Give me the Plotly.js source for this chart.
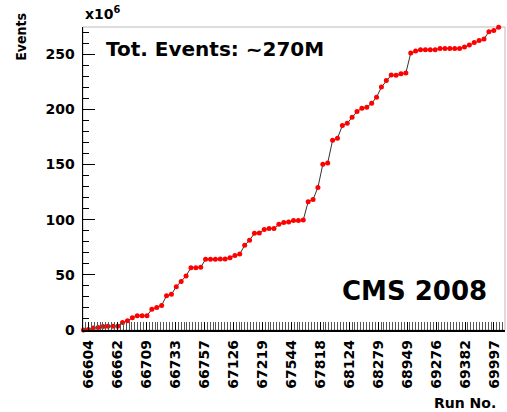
<!DOCTYPE html>
<html>
<head>
<meta charset="utf-8">
<script src="https://cdn.plot.ly/plotly-3.0.1.min.js"></script>
<style>
  html, body { margin: 0; padding: 0; background: #fff; }
  #chart { width: 507px; height: 412px; }
</style>
</head>
<body>
<div id="chart"></div>
<script>
// Cumulative recorded events (units of 10^6), one value per run, in run order
const events = [
  0, 0.5, 1.7, 2.3, 3.2, 3.5, 3.5, 3.5, 6.8, 8.3,
  11, 12.9, 12.9, 12.9, 18.9, 20.5, 22.3, 31, 32.3, 39.3,
  44, 49, 56.5, 56.5, 56.8, 64.1, 64.1, 64.1, 64.4, 64.4,
  65.6, 67.5, 68.9, 76.8, 81.4, 87.7, 88, 91.1, 92, 92,
  95.9, 97.4, 98, 99.2, 99.2, 99.8, 116.2, 118.3, 129.3, 150.2,
  151.4, 172, 173.8, 185.3, 187.4, 192.9, 198, 201.1, 202, 205.5,
  211.1, 220.2, 226.2, 231.1, 231, 232.3, 232.9, 251.1, 252.9, 254.1,
  254.1, 254.1, 254.1, 255.3, 255.3, 255.3, 255.3, 255.3, 256.5, 258.3,
  260.7, 262.5, 263.8, 270.5, 271.6, 274.4
];
// Run numbers shown as axis labels
const runLabels = [
  "66604", "66662", "66709", "66733", "66757", "67126", "67219", "67544",
  "67818", "68124", "68279", "68949", "69276", "69382", "69997"
];

const runIndex = events.map((_, i) => i);

// axis layout constants (in run-index units)
const labelStart = 1.02, labelStep = 5.93, minorStep = 0.593;
const labelPos = runLabels.map((_, k) => labelStart + k * labelStep);

const bold = { family: "DejaVu Sans, sans-serif", weight: "bold", color: "#000" };

const trace = {
  x: runIndex,
  y: events,
  type: "scatter",
  mode: "lines+markers",
  line: { color: "#333", width: 1 },
  marker: { color: "#ff0000", size: 5, symbol: "circle" },
  cliponaxis: false,
  hoverinfo: "skip"
};

const layout = {
  width: 507, height: 412,
  margin: { l: 83, r: 2, t: 27, b: 82, pad: 0 },
  paper_bgcolor: "#fff", plot_bgcolor: "#fff",
  showlegend: false,
  xaxis: {
    range: [-0.1, 86.3],
    showgrid: false, zeroline: false,
    showline: true, linecolor: "#000", linewidth: 1.5,
    tickmode: "array", tickvals: labelPos, ticktext: runLabels,
    ticks: "inside", ticklen: 8, tickcolor: "#000", tickwidth: 1,
    tickangle: -90,
    tickfont: Object.assign({ size: 14 }, bold),
    ticklabelstandoff: 3,
    minor: { tickmode: "linear", tick0: labelStart, dtick: minorStep, ticks: "inside", ticklen: 8, tickcolor: "#555", tickwidth: 1, showgrid: false }
  },
  yaxis: {
    range: [0, 274.7],
    showgrid: false, zeroline: false,
    showline: true, linecolor: "#000", linewidth: 1.5,
    tickmode: "linear", tick0: 0, dtick: 50,
    ticks: "inside", ticklen: 12, tickcolor: "#000", tickwidth: 1,
    tickfont: Object.assign({ size: 14 }, bold),
    ticklabelstandoff: 4,
    minor: { tickmode: "linear", tick0: 0, dtick: 10, ticks: "inside", ticklen: 6, tickcolor: "#000", tickwidth: 1, showgrid: false }
  },
  shapes: [
    { type: "rect", xref: "paper", yref: "paper", x0: 0, x1: 1, y0: 0, y1: 1,
      line: { color: "#bbb", width: 1 }, fillcolor: "rgba(0,0,0,0)", layer: "below" }
  ],
  annotations: [
    { text: "Tot. Events: ~270M", xref: "paper", yref: "paper", x: 0.049, y: 0.928,
      xanchor: "left", yanchor: "middle", showarrow: false,
      font: Object.assign({ size: 20 }, bold) },
    { text: "CMS 2008", xref: "paper", yref: "paper", x: 0.962, y: 0.128,
      xanchor: "right", yanchor: "middle", showarrow: false,
      font: Object.assign({ size: 26 }, bold) },
    { text: "x10<sup>6</sup>", xref: "paper", yref: "paper", x: 0, y: 1.047,
      xanchor: "left", yanchor: "middle", showarrow: false,
      font: Object.assign({ size: 14 }, bold) },
    { text: "Events", xref: "paper", yref: "paper", x: -0.1456, y: 0.966,
      xanchor: "center", yanchor: "middle", textangle: -90, showarrow: false,
      font: { family: "Liberation Sans Narrow, DejaVu Sans Condensed, sans-serif", weight: "bold", size: 14, color: "#000" } },
    { text: "Run No.", xref: "paper", yref: "paper", x: 0.905, y: -0.24,
      xanchor: "center", yanchor: "middle", showarrow: false,
      font: Object.assign({ size: 14 }, bold) }
  ]
};

Plotly.newPlot("chart", [trace], layout, { displayModeBar: false, staticPlot: true });
</script>
</body>
</html>
